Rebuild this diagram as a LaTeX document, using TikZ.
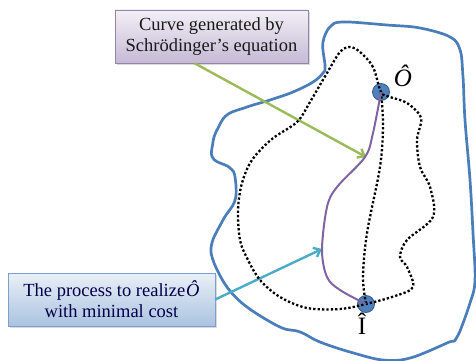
\documentclass[tikz,border=0pt]{standalone}
\usepackage{fontspec}
\setmainfont{Liberation Serif}
\usetikzlibrary{shadows,arrows.meta}
\definecolor{regionblue}{HTML}{4A7EBB}
\definecolor{pathpurple}{HTML}{8064A2}
\definecolor{arrowgreen}{HTML}{9BBB59}
\definecolor{arrowcyan}{HTML}{4BACC6}
\definecolor{dotblue}{HTML}{4F81BD}
\begin{document}
\begin{tikzpicture}[%
        x=1pt,y=-1pt,%
        callout/.style={%
            rectangle,%
            align=center,%
            inner sep=0pt,%
            drop shadow={shadow xshift=2pt,shadow yshift=-2pt,opacity=.3},%
            font=\fontsize{18.5}{21}\selectfont%
        },%
        lilacbox/.style={%
            callout,%
            minimum width=193pt,%
            minimum height=53pt,%
            draw=black!20!pathpurple!70,%
            top color=pathpurple!10,%
            bottom color=pathpurple!45,%
            text=black!90%
        },%
        skybox/.style={%
            callout,%
            minimum width=207pt,%
            minimum height=53pt,%
            draw=dotblue!75,%
            top color=dotblue!12,%
            bottom color=dotblue!48,%
            text=blue!30!black%
        },%
        state/.style={%
            circle,%
            minimum size=17pt,%
            inner sep=0pt,%
            fill=dotblue,%
            draw=dotblue!70!black,%
            thick%
        },%
        pointer/.style={%
            line width=2.4pt,%
            -{Straight Barb[length=6pt,width=10pt]}%
        },%
        route/.style={%
            line width=2.3pt,%
            dash pattern=on 2.3pt off 2.1pt%
        }%
    ]
    \useasboundingbox (0,0) rectangle (476,361);
    % region
    \draw [regionblue,line width=2.7pt,rounded corners=2pt] plot[smooth cycle,tension=.55] coordinates {%
        (325,67) (323,43) (330,27) (343,22) (387,25) (420,28) (450,37) (460,50) (463,77) (465,120)
        (470,180) (473,233) (475,280) (470,303) (457,337) (447,343) (410,358) (383,360) (350,352)
        (320,342) (300,332) (280,327) (247,307) (227,287) (213,260) (212,243) (223,220) (235,200)
        (235,177) (230,168) (213,158) (213,142) (217,130) (227,115) (247,107) (270,100) (293,92)
        (313,82) (323,73)};
    \node (O) at (381, 92) [state]{};
    \node (I) at (366,304) [state]{};
    \node (Olabel) at (403, 76) {\fontsize{25}{25}\selectfont\itshape Ô};
    \node (Ilabel) at (362,324) {\fontsize{25}{25}\selectfont Î};
    \node (curvebox) at (211.5, 36.5) [lilacbox]{Curve generated by\\Schrödinger's equation};
    \node (processbox) at (111.5,299.5) [skybox]{The process to realize\kern1pt{\itshape Ô}\\with minimal cost};
    \coordinate (gtip) at (366,157);
    \coordinate (ctip) at (322,249);
    \draw [pointer,arrowgreen] ([xshift=-17pt]curvebox.south) -- (gtip);
    \draw [pointer,arrowcyan] (processbox.east) -- (ctip);
    % paths between the two states
    \draw [route] plot[smooth cycle,tension=.55] coordinates {%
        (O.center) (373,67) (360,52) (350,47) (340,52) (327,73) (310,102) (297,122) (272,139)
        (252,160) (242,183) (238,210) (240,240) (247,258) (260,280) (280,297) (307,308) (340,309)
        (I.center) (395,296) (413,287) (407,267) (400,257) (407,240) (433,217) (430,187) (420,167)
        (417,140) (421,118) (407,103) (390,97)};
    \draw [route] plot[smooth,tension=.55] coordinates {%
        (O.center) (383,125) (380,167) (367,233) (363,277) (I.center)};
    \draw [pathpurple,line width=2pt] plot[smooth,tension=.55] coordinates {%
        (O.center) (373,133) (365,157) (337,187) (327,207) (322,250) (327,277) (340,290) (I.center)};
\end{tikzpicture}
\end{document}
